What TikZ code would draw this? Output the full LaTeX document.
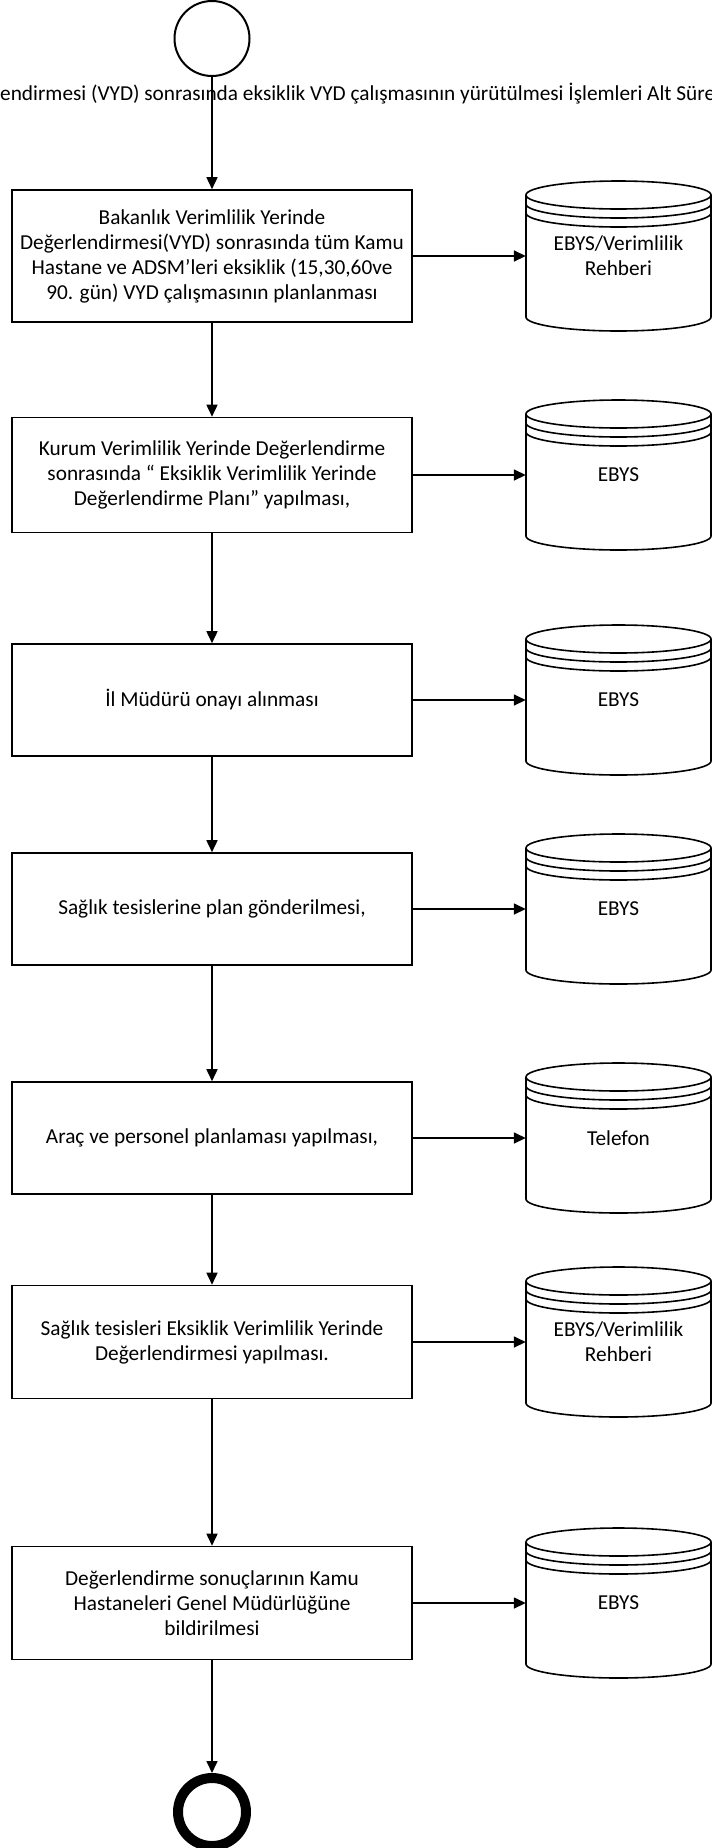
\documentclass[tikz,border=0pt]{standalone}
\usepackage{fontspec}
\setmainfont{Carlito}
\usetikzlibrary{arrows.meta}
\newcommand{\dbcyl}[3]{%
  \begin{scope}[shift={(618.5,-#2)}]
  \filldraw[cylline, fill=white] (-92.5,61) -- (-92.5,-61)
    arc[start angle=180, end angle=360, x radius=92.5, y radius=14]
    -- (92.5,61)
    arc[start angle=0, end angle=180, x radius=92.5, y radius=14] -- cycle;
  \draw[cylline] (-92.5,61) arc[start angle=180, end angle=360, x radius=92.5, y radius=14];
  \draw[cylline] (-92.5,52) arc[start angle=180, end angle=360, x radius=92.5, y radius=14];
  \draw[cylline] (-92.5,43) arc[start angle=180, end angle=360, x radius=92.5, y radius=14];
  \end{scope}
  \node[cyl] (#1) at (618.5,-#2) {#3};
}
\begin{document}
\begin{tikzpicture}[x=1pt,y=1pt,
  txt/.style={font=\fontsize{21.3}{25}\selectfont},
  proc/.style={txt, draw, line width=1.6pt, minimum width=400pt, align=center, inner sep=0pt, fill=white},
  cyl/.style={txt, minimum width=185pt, minimum height=150pt, align=center, inner sep=0pt},
  cylline/.style={line width=1.6pt},
  flow/.style={-{Triangle[length=12pt,width=11pt]}, line width=1.6pt}]
\useasboundingbox (0,0) rectangle (712,-1848);
\clip (0,0) rectangle (712,-1848);

\node[anchor=base west, inner sep=0pt, txt] (title) at (0,-100)
  {endirmesi (VYD) sonrasında eksiklik VYD çalışmasının yürütülmesi İşlemleri Alt Süreci};

\node[circle, draw, line width=2pt, minimum size=75pt, inner sep=0pt] (start) at (212,-38.5) {};
\node[circle, draw, line width=10pt, minimum size=68pt, inner sep=0pt] (end) at (212,-1812) {};

\node[proc, minimum height=132pt] (b1) at (212,-256)
  {Bakanlık Verimlilik Yerinde\\Değerlendirmesi(VYD) sonrasında tüm Kamu\\Hastane ve ADSM’leri eksiklik (15,30,60ve\\90. gün) VYD çalışmasının planlanması};
\node[proc, minimum height=115pt] (b2) at (212,-475)
  {Kurum Verimlilik Yerinde Değerlendirme\\sonrasında “ Eksiklik Verimlilik Yerinde\\Değerlendirme Planı” yapılması,};
\node[proc, minimum height=112pt] (b3) at (212,-700)
  {İl Müdürü onayı alınması};
\node[proc, minimum height=112pt] (b4) at (212,-909)
  {Sağlık tesislerine plan gönderilmesi,};
\node[proc, minimum height=112pt] (b5) at (212,-1138)
  {Araç ve personel planlaması yapılması,};
\node[proc, minimum height=113pt] (b6) at (212,-1342)
  {Sağlık tesisleri Eksiklik Verimlilik Yerinde\\Değerlendirmesi yapılması.};
\node[proc, minimum height=113pt] (b7) at (212,-1603)
  {Değerlendirme sonuçlarının Kamu\\Hastaneleri Genel Müdürlüğüne\\bildirilmesi};

\dbcyl{c1}{256}{EBYS/Verimlilik\\Rehberi}
\dbcyl{c2}{475}{EBYS}
\dbcyl{c3}{700}{EBYS}
\dbcyl{c4}{909}{EBYS}
\dbcyl{c5}{1138}{Telefon}
\dbcyl{c6}{1342}{EBYS/Verimlilik\\Rehberi}
\dbcyl{c7}{1603}{EBYS}

\draw[flow] (start) -- (b1);
\draw[flow] (b1) -- (b2);
\draw[flow] (b2) -- (b3);
\draw[flow] (b3) -- (b4);
\draw[flow] (b4) -- (b5);
\draw[flow] (b5) -- (b6);
\draw[flow] (b6) -- (b7);
\draw[flow] (b7) -- (end);
\foreach \i in {1,...,7} {\draw[flow] (b\i.east) -- (c\i.west);}
\end{tikzpicture}
\end{document}
